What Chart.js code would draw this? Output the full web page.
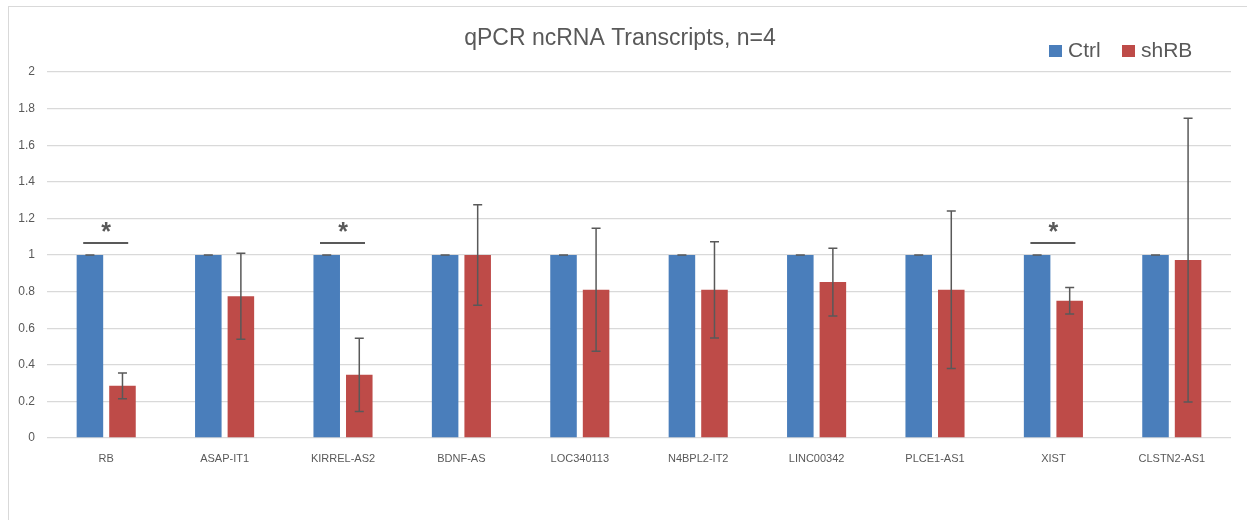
<!DOCTYPE html>
<html lang="en">
<head>
<meta charset="UTF-8">
<title>qPCR ncRNA Transcripts</title>
<style>
  html, body { margin: 0; padding: 0; background: #fff; overflow: hidden; }
  .frame { position: absolute; left: 8px; top: 6px; width: 1260px; height: 600px; border: 1px solid #d9d9d9; box-sizing: border-box; }
  .wrap { position: absolute; left: 0; top: 0; width: 1247px; height: 520px; }
</style>
</head>
<body>
<div class="frame"></div>
<div class="wrap"><canvas id="chart" width="1247" height="520"></canvas></div>

<script src="https://cdn.jsdelivr.net/npm/chart.js"></script>
<script>
// data
const categories = ['RB', 'ASAP-IT1', 'KIRREL-AS2', 'BDNF-AS', 'LOC340113', 'N4BPL2-IT2', 'LINC00342', 'PLCE1-AS1', 'XIST', 'CLSTN2-AS1'];
const ctrlValues = [1, 1, 1, 1, 1, 1, 1, 1, 1, 1];
const ctrlErrors = [0, 0, 0, 0, 0, 0, 0, 0, 0, 0];
const shrbValues = [0.285, 0.775, 0.345, 1.0, 0.81, 0.81, 0.852, 0.81, 0.75, 0.972];
const shrbErrors = [0.07, 0.235, 0.2, 0.275, 0.336, 0.263, 0.185, 0.43, 0.073, 0.775];
const significant = ['RB', 'KIRREL-AS2', 'XIST'];
const sigLevel = 1.065;

const textGrey = '#595959';
const fontFam = '"Liberation Sans", Arial, sans-serif';

// error bars, significance marks, title and legend
const extras = {
  id: 'extras',
  afterDatasetsDraw(chart) {
    const ctx = chart.ctx;
    const y = chart.scales.y;
    const errs = [ctrlErrors, shrbErrors];
    ctx.save();
    ctx.strokeStyle = textGrey;
    ctx.lineWidth = 1.5;
    chart.data.datasets.forEach((ds, di) => {
      chart.getDatasetMeta(di).data.forEach((bar, i) => {
        const v = ds.data[i], e = errs[di][i];
        const yt = y.getPixelForValue(v + e), yb = y.getPixelForValue(v - e);
        ctx.beginPath();
        ctx.moveTo(bar.x, yt); ctx.lineTo(bar.x, yb);
        ctx.moveTo(bar.x - 4.5, yt); ctx.lineTo(bar.x + 4.5, yt);
        ctx.moveTo(bar.x - 4.5, yb); ctx.lineTo(bar.x + 4.5, yb);
        ctx.stroke();
      });
    });

    // significance lines + stars
    const x = chart.scales.x;
    ctx.lineWidth = 2;
    ctx.fillStyle = textGrey;
    ctx.font = 'bold 25px ' + fontFam;
    ctx.textAlign = 'center';
    ctx.textBaseline = 'alphabetic';
    significant.forEach(name => {
      const cx = x.getPixelForValue(categories.indexOf(name));
      const ly = y.getPixelForValue(sigLevel);
      ctx.beginPath();
      ctx.moveTo(cx - 23, ly); ctx.lineTo(cx + 22, ly);
      ctx.stroke();
      ctx.fillText('*', cx, ly - 3);
    });

    // title
    ctx.font = '23px ' + fontFam;
    ctx.textBaseline = 'middle';
    ctx.fillText('qPCR ncRNA Transcripts, n=4', 620, 39);

    // legend
    ctx.font = '21px ' + fontFam;
    ctx.textAlign = 'left';
    const items = [[1049, 'Ctrl'], [1122, 'shRB']];
    chart.data.datasets.forEach((ds, di) => {
      const lx = items[di][0];
      ctx.fillStyle = ds.backgroundColor;
      ctx.fillRect(lx, 45, 13, 12);
      ctx.fillStyle = textGrey;
      ctx.fillText(items[di][1], lx + 19, 51);
    });
    ctx.restore();
  }
};

new Chart(document.getElementById('chart'), {
  type: 'bar',
  data: {
    labels: categories,
    datasets: [
      { label: 'Ctrl', data: ctrlValues, backgroundColor: '#4a7ebb', categoryPercentage: 0.55, barPercentage: 0.815 },
      { label: 'shRB', data: shrbValues, backgroundColor: '#be4b48', categoryPercentage: 0.55, barPercentage: 0.815 }
    ]
  },
  options: {
    responsive: false,
    animation: false,
    layout: { padding: { left: 8, right: 16, top: 72, bottom: 52 } },
    plugins: {
      legend: { display: false },
      title: { display: false },
      tooltip: { enabled: false }
    },
    scales: {
      x: {
        afterFit: s => { s.height = 30; },
        grid: { display: false, drawTicks: false },
        border: { display: false },
        ticks: { color: textGrey, padding: 14, font: { family: fontFam, size: 11 }, maxRotation: 0 }
      },
      y: {
        min: 0, max: 2,
        afterFit: s => { s.width = 39; },
        grid: { color: '#d9d9d9', lineWidth: 1.3, drawTicks: false },
        border: { display: false },
        ticks: {
          stepSize: 0.2, color: textGrey, padding: 12, font: { family: fontFam, size: 12 },
          callback: v => String(+v.toFixed(1))
        }
      }
    }
  },
  plugins: [extras]
});
</script>
</body>
</html>
